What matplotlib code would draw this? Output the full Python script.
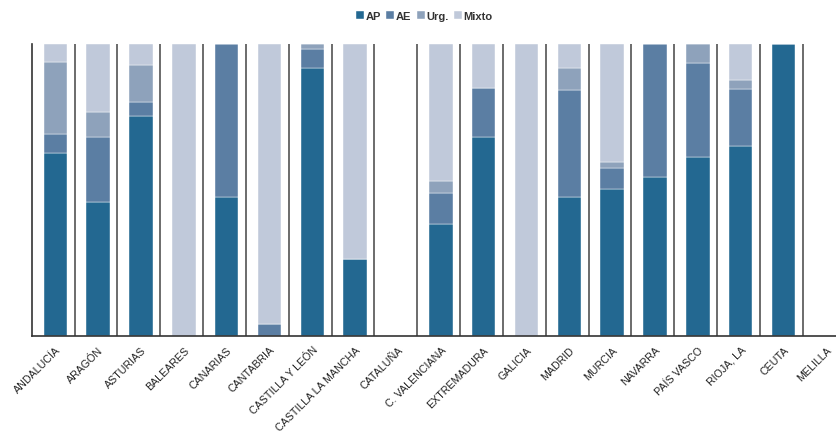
import numpy as np
import matplotlib.pyplot as plt

plt.rcParams['font.family'] = ['Liberation Sans', 'DejaVu Sans']

regiones = ['ANDALUCÍA', 'ARAGÓN', 'ASTURIAS', 'BALEARES', 'CANARIAS', 'CANTABRIA',
            'CASTILLA Y LEÓN', 'CASTILLA LA MANCHA', 'CATALUÑA', 'C. VALENCIANA',
            'EXTREMADURA', 'GALICIA', 'MADRID', 'MURCIA', 'NAVARRA', 'PAÍS VASCO',
            'RIOJA, LA', 'CEUTA', 'MELILLA']

# proporciones (0-1) por tipo
ap    = [0.627, 0.460, 0.755, 0.000, 0.477, 0.000, 0.918, 0.264, 0.0, 0.382,
         0.683, 0.000, 0.477, 0.502, 0.543, 0.613, 0.649, 1.000, 0.0]
ae    = [0.065, 0.223, 0.048, 0.000, 0.523, 0.040, 0.066, 0.000, 0.0, 0.106,
         0.167, 0.000, 0.366, 0.072, 0.457, 0.322, 0.196, 0.000, 0.0]
urg   = [0.246, 0.085, 0.126, 0.000, 0.000, 0.000, 0.016, 0.000, 0.0, 0.044,
         0.000, 0.000, 0.075, 0.023, 0.000, 0.065, 0.030, 0.000, 0.0]
mixto = [0.062, 0.232, 0.071, 1.000, 0.000, 0.960, 0.000, 0.736, 0.0, 0.468,
         0.150, 1.000, 0.082, 0.403, 0.000, 0.000, 0.125, 0.000, 0.0]

series = {'AP': ap, 'AE': ae, 'Urg.': urg, 'Mixto': mixto}
colores = ['#236891', '#5b7ea3', '#8ea2bb', '#c0c9da']

fig = plt.figure(figsize=(8.37, 4.35), dpi=100)
ax = fig.add_axes([0.0379, 0.2253, 0.9621, 0.6713])

x = np.arange(len(regiones))
bottom = np.zeros(len(regiones))
for (nombre, vals), col in zip(series.items(), colores):
    vals = np.array(vals)
    ax.bar(x + 0.05, vals, width=0.55, bottom=bottom, color=col,
           edgecolor='white', linewidth=0.3, label=nombre)
    bottom += vals

# separadores entre comunidades
for s in np.arange(0.5, len(regiones) - 1, 1):
    ax.axvline(s, color='#444444', linewidth=1.1, zorder=0)

ax.set_xlim(-0.5, 18.3)
ax.set_ylim(0, 1)
ax.set_yticks([])
ax.set_xticks(x + 0.05)
ax.set_xticklabels(regiones, rotation=45, ha='right', rotation_mode='anchor',
                   fontsize=7.7, color='#222222')
ax.tick_params(axis='x', length=0, pad=6)
for lado in ['top', 'right']:
    ax.spines[lado].set_visible(False)
ax.spines['left'].set_color('#333333')
ax.spines['bottom'].set_color('#333333')
ax.spines['left'].set_linewidth(1.2)
ax.spines['bottom'].set_linewidth(1.2)

leg = fig.legend(loc='upper center', bbox_to_anchor=(0.507, 0.995), ncol=4, frameon=False,
                 handlelength=0.7, handleheight=0.7, handletextpad=0.15,
                 columnspacing=0.5, prop={'weight': 'bold', 'size': 8})
for t in leg.get_texts():
    t.set_color('#333333')

fig.savefig('out.png', dpi=100)
